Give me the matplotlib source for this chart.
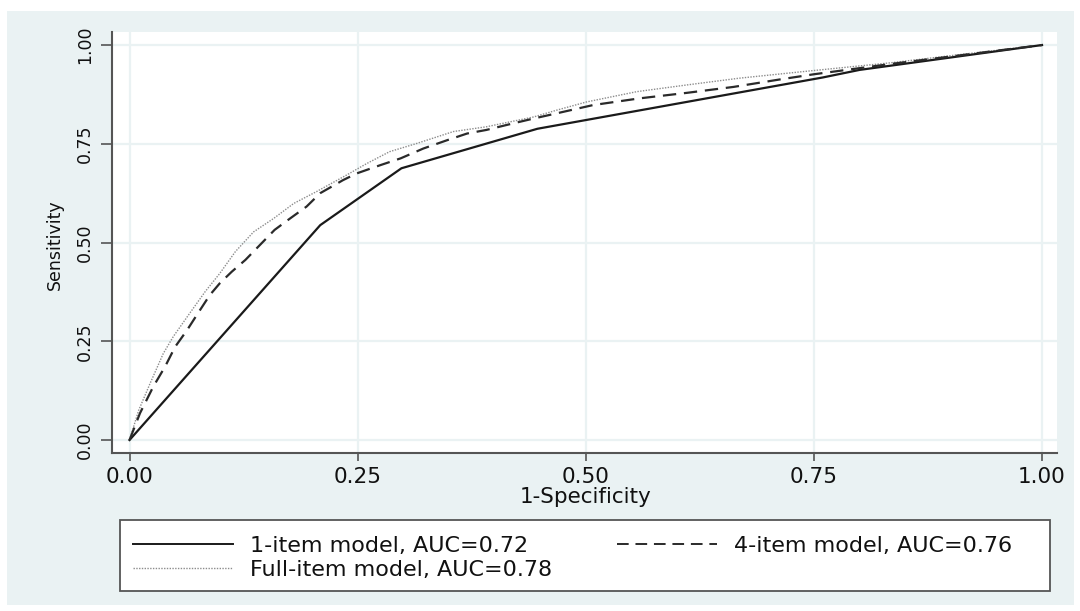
import matplotlib
matplotlib.use("Agg")
import matplotlib.pyplot as plt
from matplotlib.patches import Rectangle
from matplotlib.lines import Line2D

# ---- data ----
x_one = [0.0, 0.209, 0.298, 0.447, 0.76, 0.80, 1.0]
y_one = [0.0, 0.544, 0.688, 0.788, 0.918, 0.937, 1.0]

x_four = [0.0, 0.0115, 0.026, 0.039, 0.050, 0.063, 0.075, 0.088, 0.099, 0.112,
          0.127, 0.143, 0.159, 0.176, 0.194, 0.209, 0.234, 0.249, 0.275, 0.297,
          0.322, 0.348, 0.370, 0.391, 0.421, 0.443, 0.468, 0.508, 0.559, 0.611,
          0.662, 0.713, 0.75, 0.834, 0.907, 1.0]
y_four = [0.0, 0.068, 0.135, 0.186, 0.236, 0.278, 0.321, 0.367, 0.397, 0.426,
          0.456, 0.494, 0.532, 0.561, 0.591, 0.625, 0.658, 0.675, 0.696, 0.713,
          0.738, 0.759, 0.776, 0.785, 0.802, 0.814, 0.827, 0.848, 0.865, 0.879,
          0.894, 0.913, 0.926, 0.952, 0.973, 1.0]

x_full = [0.0, 0.010, 0.0225, 0.037, 0.048, 0.066, 0.083, 0.099, 0.116, 0.136,
          0.158, 0.180, 0.205, 0.238, 0.260, 0.285, 0.315, 0.355, 0.391, 0.443,
          0.468, 0.501, 0.556, 0.611, 0.668, 0.735, 0.834, 0.907, 1.0]
y_full = [0.0, 0.075, 0.143, 0.219, 0.262, 0.321, 0.376, 0.422, 0.477, 0.527,
          0.561, 0.599, 0.629, 0.671, 0.700, 0.730, 0.751, 0.781, 0.793, 0.818,
          0.835, 0.856, 0.882, 0.899, 0.916, 0.932, 0.955, 0.975, 1.0]

labels = ["1-item model, AUC=0.72", "4-item model, AUC=0.76", "Full-item model, AUC=0.78"]
ticks = [0.0, 0.25, 0.5, 0.75, 1.0]
tick_labels = ["0.00", "0.25", "0.50", "0.75", "1.00"]
xlabel = "1-Specificity"
ylabel = "Sensitivity"

# ---- figure ----
W, H = 1080, 611
plt.rcParams['font.family'] = ['DejaVu Sans']
fig = plt.figure(figsize=(W / 100, H / 100), dpi=100)
fig.patch.set_facecolor('white')

BG = '#eaf2f3'
AX = '#555555'

bg = Rectangle((7 / W, 1 - 605 / H), (1074 - 7) / W, (605 - 11) / H,
               transform=fig.transFigure, facecolor=BG, edgecolor='none')
bg.set_zorder(-10)
fig.add_artist(bg)

ax = fig.add_axes([112 / W, 1 - 453 / H, (1057 - 112) / W, (453 - 32) / H])
ax.set_zorder(5)
ax.set_facecolor('white')
ax.set_xlim(-0.0192, 1.0164)
ax.set_ylim(-0.0329, 1.033)

ax.set_xticks(ticks)
ax.set_xticklabels(tick_labels, fontsize=15.5)
ax.set_yticks(ticks)
ax.set_yticklabels(tick_labels, fontsize=12.5, rotation=90, va='center')
ax.grid(True, color=BG, lw=1.6)
ax.set_axisbelow(True)

for s in ['top', 'right']:
    ax.spines[s].set_visible(False)
for s in ['left', 'bottom']:
    ax.spines[s].set_color(AX)
    ax.spines[s].set_linewidth(1.5)
ax.tick_params(axis='x', length=6, width=1.2, color=AX, pad=4, labelcolor='#111111')
ax.tick_params(axis='y', length=8, width=1.2, color=AX, pad=5, labelcolor='#111111')

l1, = ax.plot(x_one, y_one, color='#1a1a1a', lw=1.6, ls='-', zorder=3)
l4, = ax.plot(x_four, y_four, color='#2a2a2a', lw=1.6, ls=(0, (6, 3.5)), zorder=3)
lf, = ax.plot(x_full, y_full, color='#8c8c8c', lw=1.0, ls=(0, (1, 1)), zorder=2)

ax.set_xlabel(xlabel, fontsize=15.5, color='#111111')
ax.xaxis.set_label_coords(0.5014, (453 - 497) / 421)
ax.xaxis.label.set_va('center')
ax.set_ylabel(ylabel, fontsize=12.5, color='#111111')
ax.yaxis.set_label_coords((55 - 112) / 945, (453 - 245) / 421)
ax.yaxis.label.set_va('center')

# legend frame
lf_rect = Rectangle((120 / W, 1 - 591 / H), (1050 - 120) / W, (591 - 520) / H,
                    transform=fig.transFigure, facecolor='white',
                    edgecolor=AX, lw=1.3)
lf_rect.set_zorder(1)
fig.add_artist(lf_rect)

handles = [Line2D([], [], color='#1a1a1a', lw=1.4, ls='-'),
           Line2D([], [], color='#8c8c8c', lw=1.0, ls=(0, (1, 1))),
           Line2D([], [], color='#2a2a2a', lw=1.4, ls=(0, (6, 3.5)))]
leg_labels = [labels[0], labels[2], labels[1]]
leg = fig.legend(handles, leg_labels, ncol=2, loc='center left',
                 bbox_to_anchor=(133 / W, 1 - 558 / H), frameon=False,
                 fontsize=16, handlelength=4.5, handletextpad=0.77,
                 columnspacing=2.9, labelspacing=0.2, borderpad=0,
                 borderaxespad=0)
leg.set_zorder(6)
for t in leg.get_texts():
    t.set_color('#111111')

fig.savefig('out.png', dpi=100, facecolor='white')
